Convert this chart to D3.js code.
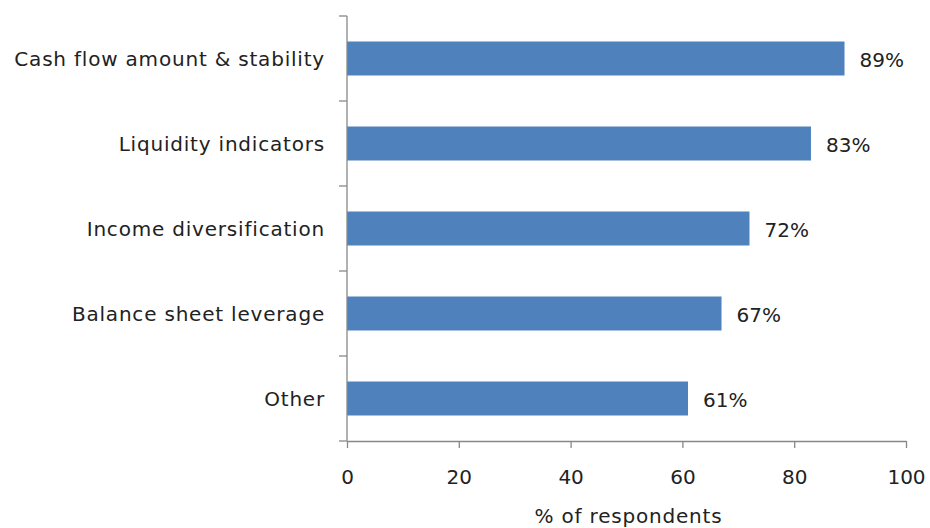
<!DOCTYPE html>
<meta charset="utf-8">
<style>
    body { margin: 0; background: #fff; }
    text { font-family: "DejaVu Sans", sans-serif; fill: #222; font-size: 20px; }
    .spaced { letter-spacing: 0.8px; }
    .axis path, .axis line { stroke: #888; stroke-width: 1.3; }
</style>
<body>
<script src="https://d3js.org/d3.v7.min.js"></script>
<script>
    var categories = ["Cash flow amount & stability", "Liquidity indicators", "Income diversification", "Balance sheet leverage", "Other"];
    var values = [89, 83, 72, 67, 61];
    var xTicks = [0, 20, 40, 60, 80, 100];

    var margin = {top: 16, right: 24, bottom: 87, left: 347},
        width = 930 - margin.left - margin.right,
        height = 528 - margin.top - margin.bottom;

    var svg = d3.select("body").append("svg")
        .attr("width", 930)
        .attr("height", 528);

    var g = svg.append("g")
        .attr("transform", "translate(" + margin.left + "," + margin.top + ")");

    var x = d3.scaleLinear().domain([0, 100]).range([0, width]);
    var y = d3.scaleBand().domain(categories).range([0, height]).paddingInner(0.6).paddingOuter(0.3);

    // bars
    g.selectAll("rect.bar")
        .data(values)
        .enter().append("rect")
        .attr("class", "bar")
        .attr("x", 0)
        .attr("y", function (d, i) { return y(categories[i]); })
        .attr("width", function (d) { return x(d); })
        .attr("height", y.bandwidth())
        .attr("fill", "#4f81bd");

    // value labels
    g.selectAll("text.val")
        .data(values)
        .enter().append("text")
        .attr("class", "val")
        .attr("x", function (d) { return x(d) + 15; })
        .attr("y", function (d, i) { return y(categories[i]) + y.bandwidth() / 2; })
        .attr("dy", "0.42em")
        .text(function (d) { return d + "%"; });

    // y axis, ticks sit between categories
    var yAxis = g.append("g").attr("class", "axis");
    yAxis.append("line").attr("x1", 0).attr("x2", 0).attr("y1", 0).attr("y2", height);
    var step = height / categories.length;
    yAxis.selectAll("line.tk")
        .data(d3.range(categories.length + 1))
        .enter().append("line")
        .attr("class", "tk")
        .attr("x1", -8).attr("x2", 0)
        .attr("y1", function (d) { return d * step; })
        .attr("y2", function (d) { return d * step; });

    g.selectAll("text.cat")
        .data(categories)
        .enter().append("text")
        .attr("class", "cat spaced")
        .attr("x", -22)
        .attr("y", function (d) { return y(d) + y.bandwidth() / 2; })
        .attr("dy", "0.36em")
        .attr("text-anchor", "end")
        .text(function (d) { return d; });

    // x axis
    var xAxis = g.append("g")
        .attr("class", "axis")
        .attr("transform", "translate(0," + height + ")")
        .call(d3.axisBottom(x).tickValues(xTicks).tickSize(7).tickSizeOuter(0).tickPadding(22));
    xAxis.selectAll("text").style("font-size", "20px").attr("fill", "#222").attr("font-family", null);

    g.append("text")
        .attr("class", "spaced")
        .attr("x", width / 2 + 2)
        .attr("y", height + 82)
        .attr("text-anchor", "middle")
        .text("% of respondents");
</script>
